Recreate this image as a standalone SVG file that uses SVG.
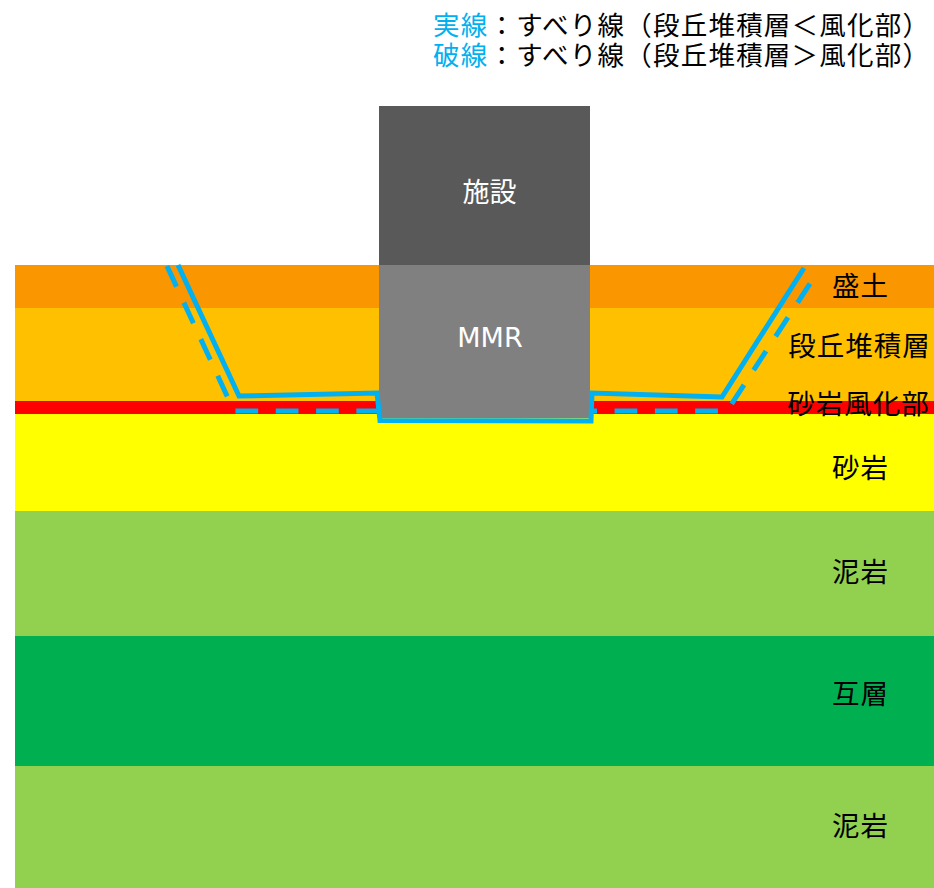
<svg xmlns="http://www.w3.org/2000/svg" width="934" height="888" viewBox="0 0 934 888">
  <style>
    .jp { font-family: "Noto Sans CJK JP", "Noto Sans", sans-serif; }
    .lbl { font-size: 27.5px; letter-spacing: 1px; fill: #000000; text-anchor: middle; }
    .box-lbl { font-size: 27px; fill: #FFFFFF; text-anchor: middle; }
    .legend { font-size: 26.5px; fill: #000000; }
    .accent { fill: #00B0F0; }
    .slip { fill: none; stroke: #00B0F0; stroke-width: 5; stroke-linejoin: miter; }
    .slip-dash { stroke-dasharray: 22.7 17.6; }
  </style>

  <!-- legend -->
  <g id="legend" class="jp legend">
    <text x="433" y="35" textLength="496" lengthAdjust="spacing"><tspan class="accent">実線</tspan>：すべり線（段丘堆積層＜風化部）</text>
    <text x="433" y="65" textLength="496" lengthAdjust="spacing"><tspan class="accent">破線</tspan>：すべり線（段丘堆積層＞風化部）</text>
  </g>

  <!-- ground layers -->
  <g id="layers">
    <rect id="layer-fill" x="15" y="265" width="919" height="43" fill="#FA9600"/>
    <rect id="layer-terrace" x="15" y="308" width="919" height="93" fill="#FFC000"/>
    <rect id="layer-weathered" x="15" y="401" width="919" height="13" fill="#FF0000"/>
    <rect id="layer-sandstone" x="15" y="414" width="919" height="97" fill="#FFFF00"/>
    <rect id="layer-mudstone-1" x="15" y="511" width="919" height="125" fill="#92D050"/>
    <rect id="layer-alternation" x="15" y="636" width="919" height="130" fill="#00B050"/>
    <rect id="layer-mudstone-2" x="15" y="766" width="919" height="122" fill="#92D050"/>
  </g>

  <!-- facility above ground -->
  <g id="facility">
    <rect x="379" y="106" width="211" height="159" fill="#595959"/>
    <text class="jp box-lbl" x="489.5" y="202">施設</text>
  </g>

  <!-- man-made rock foundation -->
  <g id="mmr">
    <rect x="379" y="265" width="211" height="153" fill="#808080"/>
    <text class="box-lbl" x="490" y="347" style="font-family: 'DejaVu Sans', sans-serif;">MMR</text>
  </g>

  <!-- slip lines -->
  <g id="connectors">
    <path id="slip-dashed-left" class="slip slip-dash" d="M167,266 L234,411 L378,411"/>
    <path id="slip-dashed-right" class="slip slip-dash" stroke-dashoffset="18.7" d="M593,411 L727,411 L811,282"/>
    <path id="slip-solid" class="slip" d="M178,265 L239,396 L377,393 L380,420.5 L591,421 L592,393 L722,397 L804,268"/>
  </g>

  <!-- layer names -->
  <g id="label-fill"><text class="jp lbl" x="860.5" y="296">盛土</text></g>
  <g id="label-terrace"><text class="jp lbl" x="859.5" y="356">段丘堆積層</text></g>
  <g id="label-weathered"><text class="jp lbl" x="858.5" y="414">砂岩風化部</text></g>
  <g id="label-sandstone"><text class="jp lbl" x="860.5" y="478">砂岩</text></g>
  <g id="label-mudstone-1"><text class="jp lbl" x="860.5" y="582">泥岩</text></g>
  <g id="label-alternation"><text class="jp lbl" x="860.5" y="704">互層</text></g>
  <g id="label-mudstone-2"><text class="jp lbl" x="860.5" y="836">泥岩</text></g>
</svg>
